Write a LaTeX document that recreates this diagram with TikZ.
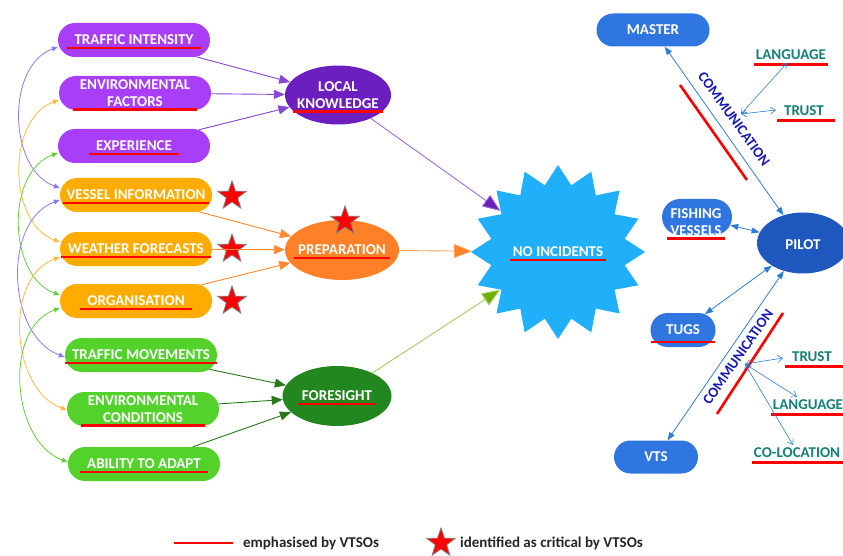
\documentclass[tikz,border=0pt]{standalone}
\usepackage{fontspec}
\setmainfont{Carlito}
\usetikzlibrary{shapes.geometric,shapes.misc,arrows.meta}
\definecolor{cPurBox}{RGB}{168,62,248}
\definecolor{cOrBox}{RGB}{255,172,0}
\definecolor{cGrBox}{RGB}{82,210,42}
\definecolor{cLK}{RGB}{108,30,190}
\definecolor{cPrep}{RGB}{255,128,38}
\definecolor{cFore}{RGB}{34,135,30}
\definecolor{cStar}{RGB}{32,176,250}
\definecolor{cBlue}{RGB}{48,118,225}
\definecolor{cPilot}{RGB}{30,88,190}
\definecolor{cTeal}{RGB}{20,128,118}
\definecolor{cComm}{RGB}{25,25,185}
\definecolor{cArrBlue}{RGB}{45,125,215}
\definecolor{cArcP}{RGB}{140,120,240}
\definecolor{cArcO}{RGB}{255,185,60}
\definecolor{cArcG}{RGB}{100,210,55}
\definecolor{cLnP}{RGB}{135,70,215}
\definecolor{cLnO}{RGB}{255,135,45}
\definecolor{cLnG}{RGB}{40,120,25}
\definecolor{cLnYG}{RGB}{160,205,90}
\definecolor{cTipYG}{RGB}{110,175,0}
\begin{document}
\begin{tikzpicture}[x=1pt,y=-1pt,
  box/.style={rounded rectangle, minimum width=152pt, minimum height=34pt, inner sep=0pt, fill=#1},
  txt/.style={text=white, font=\fontsize{15}{17}\selectfont\bfseries, align=center, inner xsep=7pt, inner ysep=3pt},
  ttxt/.style={text=cTeal, font=\fontsize{15}{17}\selectfont\bfseries, inner xsep=2pt, inner ysep=4.5pt},
  ul/.style={draw=red, line width=2.6pt},
  crit/.style={star, star points=5, star point ratio=2.5, minimum size=30pt, inner sep=0pt, fill=red, draw=gray, line width=0.8pt},
  arcP/.style={draw=cArcP, line width=0.8pt, {Triangle[length=6pt,width=5pt]}-{Triangle[length=6pt,width=5pt]}},
  arcO/.style={draw=cArcO, line width=0.8pt, {Triangle[length=6pt,width=5pt]}-{Triangle[length=6pt,width=5pt]}},
  arcG/.style={draw=cArcG, line width=0.8pt, {Triangle[length=6pt,width=5pt]}-{Triangle[length=6pt,width=5pt]}},
  inarr/.style={draw=#1, line width=0.9pt, -{Triangle[length=11pt,width=9pt]}},
  bigarr/.style={line width=0.9pt},
  barr/.style={draw=cArrBlue, line width=0.8pt, {Triangle[length=8pt,width=6pt]}-{Triangle[length=8pt,width=6pt]}},
  sarr/.style={draw=cArrBlue, line width=0.6pt, {Straight Barb[length=5pt,width=7pt]}-{Straight Barb[length=5pt,width=7pt]}},
  comm/.style={text=cComm, font=\fontsize{14.5}{16}\selectfont\bfseries, inner sep=0pt}
]
\useasboundingbox (0,0) rectangle (843,556);

% ---- left boxes ----
\node[box=cPurBox] (ti) at (134,40) {};
\node[box=cPurBox] (ef) at (135,93) {};
\node[box=cPurBox] (ex) at (134,146) {};
\node[box=cOrBox] (vi) at (136,195) {};
\node[box=cOrBox] (wf) at (136,249) {};
\node[box=cOrBox] (og) at (136,301) {};
\node[box=cGrBox] (tm) at (141,355) {};
\node[box=cGrBox] (ec) at (143,409) {};
\node[box=cGrBox] (aa) at (144,464) {};

\node[txt] (tiT) at (ti) {TRAFFIC INTENSITY};
\node[txt] (efT) at (ef) {ENVIRONMENTAL\\FACTORS};
\node[txt] (exT) at (ex) {EXPERIENCE};
\node[txt, inner xsep=3pt] (viT) at (vi) {VESSEL INFORMATION};
\node[txt] (wfT) at (wf) {WEATHER FORECASTS};
\node[txt] (ogT) at (og) {ORGANISATION};
\node[txt] (tmT) at (tm) {TRAFFIC MOVEMENTS};
\node[txt] (ecT) at (ec) {ENVIRONMENTAL\\CONDITIONS};
\node[txt] (aaT) at (aa) {ABILITY TO ADAPT};
\foreach \n in {tiT,efT,exT,viT,wfT,ogT,tmT,ecT,aaT}
  \draw[ul] (\n.south west) -- (\n.south east);

% ---- critical stars ----
\node[crit] (s1) at (232,196) {};
\node[crit] (s2) at (232,249) {};
\node[crit] (s3) at (232,301) {};

% ---- ellipses ----
\node[ellipse, fill=cLK, minimum width=106pt, minimum height=59pt, inner sep=0pt] (lk) at (338,95) {};
\node[ellipse, fill=cPrep, minimum width=114pt, minimum height=60pt, inner sep=0pt] (pr) at (342,250) {};
\node[ellipse, fill=cFore, minimum width=109pt, minimum height=60pt, inner sep=0pt] (fo) at (337,396) {};
\node[txt, inner xsep=4pt] (lkT) at (338,95) {LOCAL\\KNOWLEDGE};
\node[txt, inner xsep=4pt] (prT) at (342,250) {PREPARATION};
\node[txt, inner xsep=4pt] (foT) at (337,396) {FORESIGHT};
\foreach \n in {lkT,prT,foT}
  \draw[ul] (\n.south west) -- (\n.south east);
\node[crit] (s4) at (345,221) {};

% ---- no incidents ----
\node[star, star points=16, star point ratio=1.28, minimum size=174pt, inner sep=0pt, fill=cStar] (ni) at (558,252) {};
\node[txt, inner xsep=3pt] (niT) at (558,252) {NO INCIDENTS};
\draw[ul] (niT.south west) -- (niT.south east);

% ---- arrows into ellipses ----
\draw[inarr=cLnP] (ti) -- (lk);
\draw[inarr=cLnP] (ef) -- (lk);
\draw[inarr=cLnP] (ex) -- (lk);
\draw[inarr=cLnO] (vi) -- (pr);
\draw[inarr=cLnO] (wf) -- (pr);
\draw[inarr=cLnO] (og) -- (pr);
\draw[inarr=cLnG] (tm) -- (fo);
\draw[inarr=cLnG] (ec) -- (fo);
\draw[inarr=cLnG] (aa) -- (fo);

\draw[bigarr, draw=cLnP!80, -{Triangle[length=18pt,width=14pt,fill=cLK]}] (lk) -- (ni);
\draw[bigarr, draw=cLnO!80, -{Triangle[length=18pt,width=14pt,fill=cPrep]}] (pr) -- (ni);
\draw[bigarr, draw=cLnYG, -{Triangle[length=18pt,width=14pt,fill=cTipYG]}] (fo) -- (ni);

% ---- left arcs ----
\draw[arcP] ([yshift=-7pt]ti.west) to[out=200,in=160] ([yshift=7pt]vi.west);
\draw[arcO] ([yshift=-7pt]ef.west) to[out=200,in=160] ([yshift=7pt]wf.west);
\draw[arcG] ([yshift=-7pt]ex.west) to[out=200,in=160] ([yshift=6pt]og.west);
\draw[arcP] ([yshift=-5pt]vi.west) to[out=200,in=160] ([yshift=-2pt]tm.west);
\draw[arcO] ([yshift=-8pt]wf.west) to[out=200,in=160] ([yshift=-1pt]ec.west);
\draw[arcG] ([yshift=-7pt]og.west) to[out=200,in=160] ([yshift=2pt]aa.west);

% ---- right side ----
\node[rounded rectangle, fill=cBlue, minimum width=113pt, minimum height=33pt, inner sep=0pt] (ma) at (653,30) {};
\node[txt] at (ma) {MASTER};
\node[ellipse, fill=cPilot, minimum width=92pt, minimum height=61pt, inner sep=0pt] (pi) at (803,243) {};
\node[txt] at (803,245) {PILOT};
\node[rounded rectangle, fill=cBlue, minimum width=70pt, minimum height=36pt, inner sep=0pt] (fv) at (697,217) {};
\node[txt, inner ysep=1pt, inner xsep=3pt] (fvT) at (696,222) {FISHING\\VESSELS};
\draw[ul] ([yshift=-2pt]fvT.south west) -- ([yshift=-2pt]fvT.south east);
\node[rounded rectangle, fill=cBlue, minimum width=65pt, minimum height=34pt, inner sep=0pt] (tu) at (683,330) {};
\node[txt] (tuT) at (683,330) {TUGS};
\draw[ul] ([xshift=-8pt,yshift=-4pt]tuT.south west) -- ([xshift=8pt,yshift=-4pt]tuT.south east);
\node[rounded rectangle, fill=cBlue, minimum width=84pt, minimum height=33pt, inner sep=0pt] (vt) at (656,457) {};
\node[txt] at (vt) {VTS};

\draw[barr] (ma) -- (pi);
\draw[barr] (fv) -- (pi);
\draw[barr] (tu) -- (pi);
\draw[barr] (vt) -- (pi);

\node[comm, rotate=-54] (c1T) at (734,119) {COMMUNICATION};
\node[comm, rotate=55] (c2T) at (738,357) {COMMUNICATION};
\draw[ul] (680,85) -- (747,180);
\draw[ul] (783,313) -- (717,414);

\coordinate (c1) at (741,114);
\coordinate (c2) at (745,364);

\node[ttxt] (la1) at (791,55) {LANGUAGE};
\node[ttxt] (tr1) at (804,111) {TRUST};
\node[ttxt] (tr2) at (812,357) {TRUST};
\node[ttxt] (la2) at (808,405) {LANGUAGE};
\node[ttxt] (co) at (797,453) {CO-LOCATION};
\draw[ul] (la1.south west) -- (la1.south east);
\draw[ul] ([xshift=-5pt]tr1.south west) -- ([xshift=9pt]tr1.south east);
\draw[ul] ([xshift=-5pt]tr2.south west) -- ([xshift=9pt]tr2.south east);
\draw[ul] (la2.south west) -- (la2.south east);
\draw[ul] (co.south west) -- ([xshift=4pt]co.south east);

\coordinate (la1p) at (787,63);
\coordinate (tr1p) at (776,110);
\coordinate (tr2p) at (783,358);
\coordinate (la2p) at (797,397);
\coordinate (cop) at (793,445);
\draw[sarr] (c1) -- (la1p);
\draw[sarr] (c1) -- (tr1p);
\draw[sarr] (c2) -- (tr2p);
\draw[sarr] (c2) -- (la2p);
\draw[sarr] (c2) -- (cop);

% ---- legend ----
\coordinate (l1) at (174,543);
\coordinate (l2) at (233,543);
\draw[ul] (l1) -- (l2);
\node[anchor=west, text=black!85, font=\fontsize{15}{17}\selectfont\bfseries, inner sep=0pt] (lt1) at (243,543) {emphasised by VTSOs};
\node[crit] (ls) at (441,543) {};
\node[anchor=west, text=black!85, font=\fontsize{15}{17}\selectfont\bfseries, inner sep=0pt] (lt2) at (460,543) {identified as critical by VTSOs};
\end{tikzpicture}
\end{document}
